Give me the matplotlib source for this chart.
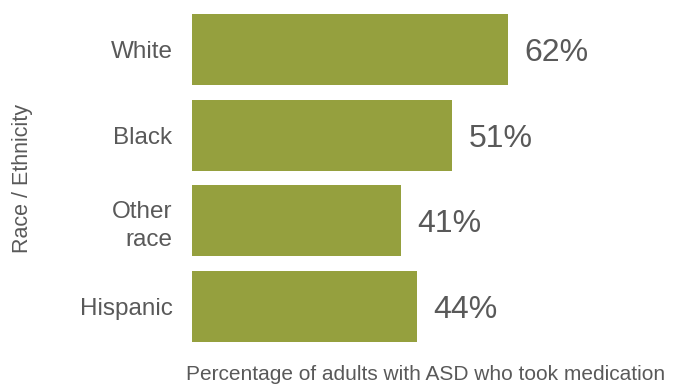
import matplotlib.pyplot as plt

plt.rcParams['font.family'] = ['Liberation Sans', 'DejaVu Sans']

categories = ["White", "Black", "Other\nrace", "Hispanic"]
values = [62, 51, 41, 44]
value_labels = ["62%", "51%", "41%", "44%"]

bar_color = "#95a03e"
text_color = "#595959"

fig = plt.figure(figsize=(6.98, 3.84), dpi=100)
# axes from x=192 px, bars from y=14 to 342 px
ax = fig.add_axes([192 / 698, (384 - 349) / 384, 498 / 698, 342 / 384])

y = list(range(len(categories)))
ax.barh(y, values, height=0.83, color=bar_color)
ax.set_xlim(0, 97.6)
ax.set_ylim(len(categories) - 0.5, -0.5)

for yi, v, lab in zip(y, values, value_labels):
    ax.text(v + 3.2, yi, lab, va="center_baseline", ha="left", fontsize=23, color=text_color)

ax.set_yticks(y)
ax.set_yticklabels(categories, fontsize=17.5, color=text_color, linespacing=1.35)
ax.tick_params(axis="y", length=0, pad=14)
ax.set_xticks([])
for s in ax.spines.values():
    s.set_visible(False)

fig.text(23 / 698, 1 - 178 / 384, "Race / Ethnicity", rotation=90, ha="center", va="center",
         fontsize=15.5, color=text_color)
fig.text(426 / 698, 1 - 374 / 384, "Percentage of adults with ASD who took medication",
         ha="center", va="center", fontsize=15, color=text_color)

fig.savefig("out.png", dpi=100)
